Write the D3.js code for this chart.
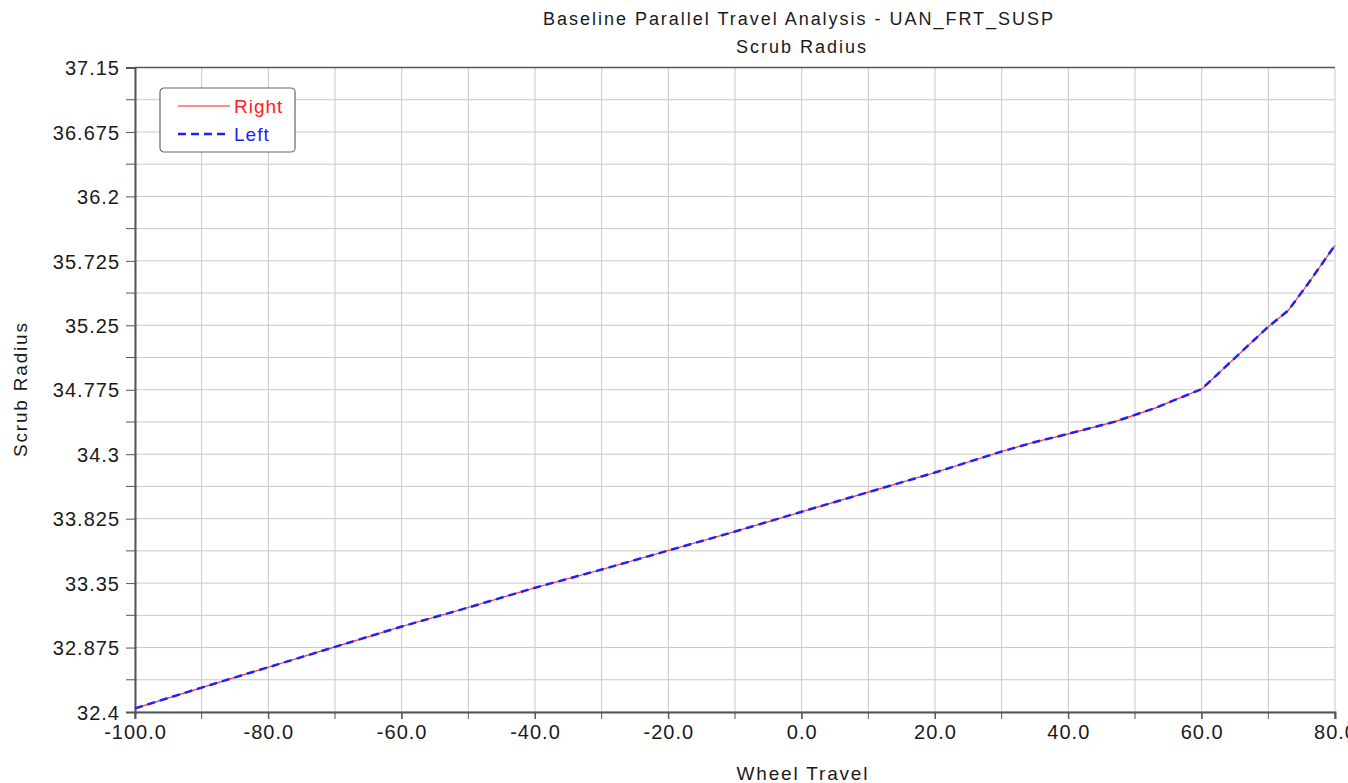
<!DOCTYPE html>
<html>
<head>
<meta charset="utf-8">
<script src="https://cdn.jsdelivr.net/npm/d3@7"></script>
<style>
  body { margin: 0; background: #fff; }
  text { font-family: "Liberation Sans", Arial, sans-serif; }
</style>
</head>
<body>
<div id="chart"></div>
<script>
// wheel travel (mm) and scrub radius
var travel = [-100, -90, -80, -70, -60, -50, -40, -30, -20, -10, 0, 10, 20, 30, 35, 40, 47, 53, 60, 65, 70, 73, 76, 80];
var rightSide = [32.427, 32.58, 32.73, 32.88, 33.03, 33.17, 33.316, 33.45, 33.59, 33.73, 33.876, 34.02, 34.165, 34.32, 34.39, 34.45, 34.54, 34.64, 34.78, 35.01, 35.24, 35.36, 35.56, 35.84];
var leftSide = [32.427, 32.58, 32.73, 32.88, 33.03, 33.17, 33.316, 33.45, 33.59, 33.73, 33.876, 34.02, 34.165, 34.32, 34.39, 34.45, 34.54, 34.64, 34.78, 35.01, 35.24, 35.36, 35.56, 35.84];
var xTicks = [-100, -80, -60, -40, -20, 0, 20, 40, 60, 80];
var xMinor = [-100, -90, -80, -70, -60, -50, -40, -30, -20, -10, 0, 10, 20, 30, 40, 50, 60, 70, 80];
var yTicks = [32.4, 32.875, 33.35, 33.825, 34.3, 34.775, 35.25, 35.725, 36.2, 36.675, 37.15];
var yMinor = [32.6375, 33.1125, 33.5875, 34.0625, 34.5375, 35.0125, 35.4875, 35.9625, 36.4375, 36.9125];

var W = 1348, H = 783;
var margin = {top: 67.5, left: 135, right: 13, bottom: 71};
var width = W - margin.left - margin.right,
    height = H - margin.top - margin.bottom;

var svg = d3.select("#chart").append("svg")
    .attr("width", W).attr("height", H);

var g = svg.append("g")
    .attr("transform", "translate(" + margin.left + "," + margin.top + ")");

var x = d3.scaleLinear().domain([-100, 80]).range([0, width]);
var y = d3.scaleLinear().domain([32.4, 37.15]).range([height, 0]);

// grid
g.append("g").selectAll("line")
  .data(xMinor).enter().append("line")
  .attr("x1", function(d) { return x(d); }).attr("x2", function(d) { return x(d); })
  .attr("y1", 0).attr("y2", height)
  .attr("stroke", "#c8c8c8").attr("stroke-width", 1);
g.append("g").selectAll("line")
  .data(yTicks.concat(yMinor)).enter().append("line")
  .attr("x1", 0).attr("x2", width)
  .attr("y1", function(d) { return y(d); }).attr("y2", function(d) { return y(d); })
  .attr("stroke", "#c8c8c8").attr("stroke-width", 1);

// top border
g.append("line").attr("x1", 0).attr("x2", width).attr("y1", 0).attr("y2", 0)
  .attr("stroke", "#555").attr("stroke-width", 1.5);

// axes
var xAxis = g.append("g")
  .attr("transform", "translate(0," + height + ")")
  .call(d3.axisBottom(x).tickValues(xTicks).tickSize(7).tickPadding(6)
        .tickFormat(function(d) { return d.toFixed(1); }));
xAxis.append("g").selectAll("line").data(xMinor).enter().append("line")
  .attr("x1", function(d) { return x(d); }).attr("x2", function(d) { return x(d); })
  .attr("y1", 0).attr("y2", 7).attr("stroke", "#555");

var yAxis = g.append("g")
  .call(d3.axisLeft(y).tickValues(yTicks).tickSize(9).tickPadding(6)
        .tickFormat(function(d) { return String(d); }));
yAxis.append("g").selectAll("line").data(yMinor).enter().append("line")
  .attr("y1", function(d) { return y(d); }).attr("y2", function(d) { return y(d); })
  .attr("x1", 0).attr("x2", -9).attr("stroke", "#555");

[xAxis, yAxis].forEach(function(a) {
  a.select(".domain").attr("stroke", "#555").attr("stroke-width", 2);
  a.selectAll(".tick line").attr("stroke", "#555");
  a.selectAll("text").attr("font-size", 20).attr("fill", "#1a1a1a")
    .style("font-family", "'Liberation Sans', Arial, sans-serif")
    .style("letter-spacing", "1px");
});
yAxis.selectAll(".tick text").attr("dy", "0.36em");

// lines
var line = d3.line()
  .x(function(d) { return x(d[0]); })
  .y(function(d) { return y(d[1]); });

g.append("path")
  .datum(travel.map(function(t, i) { return [t, rightSide[i]]; }))
  .attr("d", line).attr("fill", "none")
  .attr("stroke", "#ff3030").attr("stroke-width", 1.2);

g.append("path")
  .datum(travel.map(function(t, i) { return [t, leftSide[i]]; }))
  .attr("d", line).attr("fill", "none")
  .attr("stroke", "#2020ff").attr("stroke-width", 2.5)
  .attr("stroke-dasharray", "8,5");

// titles
svg.append("text").attr("x", 798).attr("y", 25).attr("text-anchor", "middle")
  .attr("font-size", 18).attr("fill", "#1a1a1a")
  .attr("textLength", 510).attr("lengthAdjust", "spacing")
  .text("Baseline Parallel Travel Analysis - UAN_FRT_SUSP");
svg.append("text").attr("x", 801).attr("y", 53).attr("text-anchor", "middle")
  .attr("font-size", 18).attr("fill", "#1a1a1a")
  .attr("textLength", 130).attr("lengthAdjust", "spacing")
  .text("Scrub Radius");
svg.append("text").attr("x", 802).attr("y", 780).attr("text-anchor", "middle")
  .attr("font-size", 19).attr("fill", "#1a1a1a")
  .attr("textLength", 131).attr("lengthAdjust", "spacing")
  .text("Wheel Travel");
svg.append("text")
  .attr("transform", "translate(27,390) rotate(-90)")
  .attr("text-anchor", "middle")
  .attr("font-size", 19).attr("fill", "#1a1a1a")
  .attr("textLength", 134).attr("lengthAdjust", "spacing")
  .text("Scrub Radius");

// legend
var leg = svg.append("g").attr("transform", "translate(160,88)");
leg.append("rect").attr("width", 135).attr("height", 64).attr("rx", 4)
  .attr("fill", "#fff").attr("stroke", "#666").attr("stroke-width", 1.2);
var legItems = [
  {name: "Right", color: "#ff2020", w: 1.2, dash: null},
  {name: "Left", color: "#2020ff", w: 2.5, dash: "8,5"}
];
legItems.forEach(function(it, i) {
  var yy = 18 + i * 28;
  leg.append("line").attr("x1", 18).attr("x2", 70).attr("y1", yy).attr("y2", yy)
    .attr("stroke", it.color).attr("stroke-width", it.w)
    .attr("stroke-dasharray", it.dash);
  leg.append("text").attr("x", 74).attr("y", yy + 7)
    .attr("font-size", 19).attr("fill", it.color)
    .style("letter-spacing", "1px").text(it.name);
});
</script>
</body>
</html>
